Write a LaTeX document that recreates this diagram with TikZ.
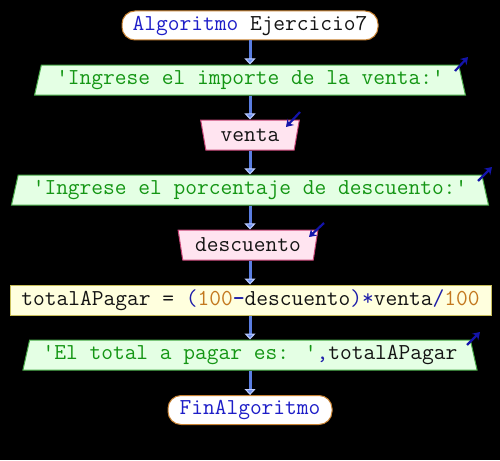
\documentclass[tikz,border=0pt]{standalone}
\usepackage{fontspec}
\usetikzlibrary{shapes.geometric,arrows.meta}
\definecolor{kw}{RGB}{30,30,200}
\definecolor{txt}{RGB}{20,20,20}
\definecolor{strgreen}{RGB}{20,150,20}
\definecolor{num}{RGB}{195,120,30}
\definecolor{opblue}{RGB}{30,30,170}
\definecolor{termedge}{RGB}{200,130,50}
\definecolor{outfill}{RGB}{228,255,228}
\definecolor{outedge}{RGB}{70,170,70}
\definecolor{infill}{RGB}{255,228,240}
\definecolor{inedge}{RGB}{200,70,120}
\definecolor{procfill}{RGB}{255,255,222}
\definecolor{procedge}{RGB}{200,190,90}
\definecolor{linkblue}{RGB}{90,125,225}
\definecolor{tipblue}{RGB}{110,145,240}
\definecolor{tipedge}{RGB}{190,205,255}
\definecolor{iconblue}{RGB}{20,20,170}
\newcommand{\q}{\textquotesingle}
\begin{document}
\begin{tikzpicture}[x=1pt,y=-1pt,
  font=\ttfamily\fontsize{22.8}{24}\selectfont,
  term/.style={rectangle, rounded corners=13pt, draw=termedge, fill=white, line width=1pt, minimum height=29pt, inner sep=0pt},
  outp/.style={trapezium, trapezium stretches=true, trapezium left angle=72, trapezium right angle=72, draw=outedge, fill=outfill, line width=1pt, minimum height=30pt, inner sep=0pt, text=strgreen},
  inp/.style={trapezium, trapezium stretches=true, shape border rotate=180, trapezium left angle=75, trapezium right angle=75, draw=inedge, fill=infill, line width=1pt, minimum height=30pt, inner sep=0pt, text=txt},
  proc/.style={rectangle, draw=procedge, fill=procfill, line width=1pt, minimum height=30pt, inner sep=0pt, text=txt},
  conn/.style={draw=linkblue, line width=3pt, -{Triangle[width=11pt,length=6pt,line width=1pt,fill=tipblue,color=tipedge]}},
  icon/.style={draw=iconblue, line width=2.2pt, -{Stealth[length=7pt,width=9pt]}}
]
\fill[black] (0,0) rectangle (500,460);
\useasboundingbox (0,0) rectangle (500,460);

\node[term, minimum width=256pt] (start) at (250,25.5) {{\color{kw}Algoritmo} {\color{txt}Ejercicio7}};
\node[outp, minimum width=433pt] (o1) at (250,80) {\q Ingrese el importe de la venta:\q};
\node[inp, minimum width=99pt] (i1) at (250,135) {venta};
\node[outp, minimum width=479pt] (o2) at (250,190) {\q Ingrese el porcentaje de descuento:\q};
\node[inp, minimum width=140pt] (i2) at (248,245) {descuento};
\node[proc, minimum width=481pt] (p1) at (250.5,300) {totalAPagar = {\color{opblue}(}{\color{num}100}{\color{opblue}\textbf{-}}descuento{\color{opblue})*}venta{\color{opblue}/}{\color{num}100}};
\node[outp, minimum width=455pt] (o3) at (250,355) {\q El total a pagar es: \q{\color{opblue},}{\color{txt}totalAPagar}};
\node[term, minimum width=164pt] (end) at (250,410) {{\color{kw}FinAlgoritmo}};

\draw[conn] (start.south) -- (start.south |- o1.north);
\draw[conn] (o1.south) -- (o1.south |- i1.north);
\draw[conn] (i1.south) -- (i1.south |- o2.north);
\draw[conn] (o2.south) -- (o2.south |- i2.north);
\draw[conn] (i2.south -| o2.south) -- (o2.south |- p1.north);
\draw[conn] (p1.south -| o2.south) -- (o2.south |- o3.north);
\draw[conn] (o3.south) -- (o3.south |- end.north);

\draw[icon] ([shift={(205,-9)}]o1.center) -- ([shift={(218,-23)}]o1.center);
\draw[icon] ([shift={(50,-23)}]i1.center) -- ([shift={(36,-8)}]i1.center);
\draw[icon] ([shift={(228,-9)}]o2.center) -- ([shift={(242,-23)}]o2.center);
\draw[icon] ([shift={(76,-22)}]i2.center) -- ([shift={(61,-8)}]i2.center);
\draw[icon] ([shift={(217,-10)}]o3.center) -- ([shift={(230,-23)}]o3.center);
\end{tikzpicture}
\end{document}
